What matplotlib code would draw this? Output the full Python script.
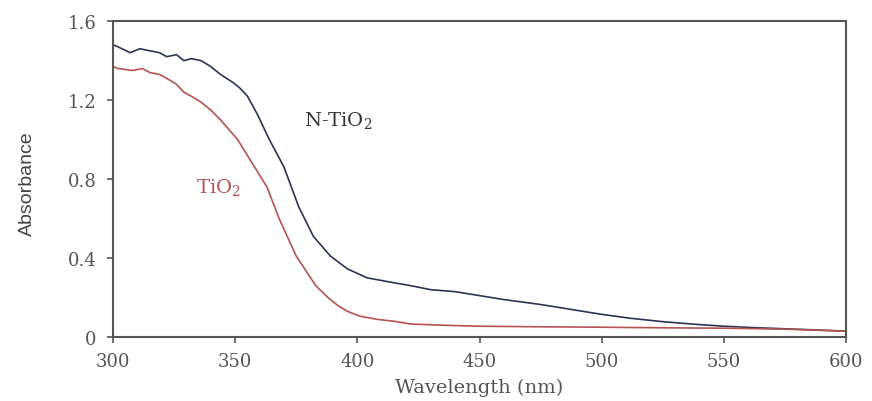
import matplotlib
matplotlib.use("Agg")
import matplotlib.pyplot as plt
from matplotlib import font_manager

# wavelength (nm) / absorbance
wl_n = [300, 302, 307, 311, 315, 319, 322, 326, 329, 332, 336, 340, 344, 349, 352,
        355, 357, 359, 364, 370, 376, 382, 389, 396, 404, 415, 422, 430, 440, 450,
        460, 475, 490, 500, 512, 525, 538, 550, 562, 575, 588, 600]
abs_n = [1.48, 1.47, 1.44, 1.46, 1.45, 1.44, 1.42, 1.43, 1.40, 1.41, 1.40, 1.37, 1.33, 1.29, 1.26,
         1.22, 1.175, 1.13, 1.00, 0.86, 0.66, 0.51, 0.41, 0.345, 0.30, 0.275, 0.26, 0.24, 0.23, 0.21,
         0.19, 0.165, 0.135, 0.115, 0.095, 0.078, 0.065, 0.055, 0.048, 0.042, 0.036, 0.03]

wl_t = [300, 302, 308, 312, 315, 319, 322, 326, 329, 332, 336, 340, 344, 351, 356,
        363, 368, 375, 383, 388, 392, 396, 401, 408, 415, 422, 435, 450, 475, 500,
        525, 550, 575, 600]
abs_t = [1.37, 1.36, 1.35, 1.36, 1.34, 1.33, 1.31, 1.28, 1.24, 1.22, 1.19, 1.15, 1.10, 1.00, 0.90,
         0.76, 0.60, 0.41, 0.26, 0.20, 0.16, 0.13, 0.106, 0.09, 0.08, 0.066, 0.06, 0.055, 0.052, 0.05,
         0.047, 0.045, 0.04, 0.03]

xticks = [300, 350, 400, 450, 500, 550, 600]
yticks = [0, 0.4, 0.8, 1.2, 1.6]
ylabels = ["0", "0.4", "0.8", "1.2", "1.6"]

serif = "DejaVu Serif"
names = {f.name for f in font_manager.fontManager.ttflist}
narrow = "Liberation Sans Narrow" if "Liberation Sans Narrow" in names else "Liberation Sans"

plt.rcParams["mathtext.fontset"] = "custom"
plt.rcParams["mathtext.rm"] = serif
plt.rcParams["mathtext.it"] = serif

fig = plt.figure(figsize=(8.72, 4.02), dpi=100)
ax = fig.add_axes([0.1296, 0.159, 0.8406, 0.786])

ax.plot(wl_n, abs_n, color="#2b3553", lw=1.2)
ax.plot(wl_t, abs_t, color="#b5534f", lw=1.2)

ax.set_xlim(300, 600)
ax.set_ylim(0, 1.6)
ax.set_xticks(xticks)
ax.set_xticklabels([str(t) for t in xticks], fontfamily=serif, fontsize=13, color="#555555")
ax.set_yticks(yticks)
ax.set_yticklabels(ylabels, fontfamily=serif, fontsize=13, color="#555555")
ax.tick_params(direction="out", length=4, width=1.2, color="#555555")
ax.tick_params(axis="x", pad=7)
ax.tick_params(axis="y", pad=8)

for s in ax.spines.values():
    s.set_color("#555555")
    s.set_linewidth(1.5)

ax.set_xlabel("Wavelength (nm)", fontfamily=serif, fontsize=14, color="#555555")
ax.xaxis.set_label_coords(0.5, -0.13)
ax.set_ylabel("Absorbance", fontfamily=narrow, fontsize=14, color="#444444")
ax.yaxis.set_label_coords(-0.105, 0.49)

ax.text(392, 1.10, r"N-TiO$_2$", fontfamily=serif, fontsize=14, color="#333333",
        ha="center", va="center")
ax.text(343, 0.765, r"TiO$_2$", fontfamily=serif, fontsize=14, color="#b5534f",
        ha="center", va="center")

fig.savefig("out.png", dpi=100)
